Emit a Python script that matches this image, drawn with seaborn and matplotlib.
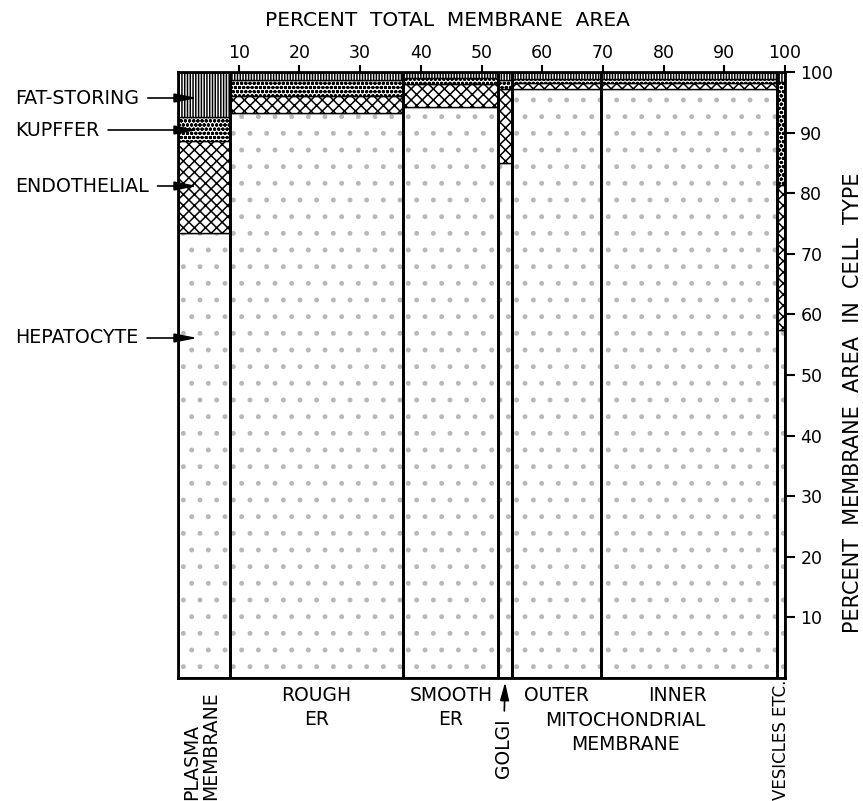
import numpy as np
import pandas as pd
import matplotlib
matplotlib.use("Agg")
import matplotlib.pyplot as plt
import matplotlib.transforms as mtransforms
import seaborn as sns

# Membrane compartments (column widths = percent of total membrane area)
compartments = ["PLASMA\nMEMBRANE", "ROUGH\nER", "SMOOTH\nER", "GOLGI",
                "OUTER", "INNER", "VESICLES ETC."]
total_area = [8.5, 28.6, 15.7, 2.2, 14.7, 28.9, 1.4]

# Percent of each compartment's membrane contributed by each cell type
cell_types = ["HEPATOCYTE", "ENDOTHELIAL", "KUPFFER", "FAT-STORING"]
hepatocyte = [73.5, 93.2, 94.2, 85.0, 97.2, 97.2, 57.4]
endothelial = [15.1, 2.9, 3.8, 12.2, 1.0, 1.0, 24.0]
kupffer = [4.0, 2.5, 1.0, 1.4, 0.6, 0.6, 16.9]
fat_storing = [7.4, 1.4, 1.0, 1.4, 1.2, 1.2, 1.7]

x_ticks = [10, 20, 30, 40, 50, 60, 70, 80, 90, 100]
y_ticks = [10, 20, 30, 40, 50, 60, 70, 80, 90, 100]

sns.set_theme(style="white")
plt.rcParams["font.family"] = ["DejaVu Sans"]
plt.rcParams["text.color"] = "black"
plt.rcParams["hatch.linewidth"] = 1.1

df = pd.DataFrame({
    "compartment": np.repeat(compartments, len(cell_types)),
    "cell_type": cell_types * len(compartments),
    "share": np.column_stack([hepatocyte, endothelial, kupffer, fat_storing]).ravel(),
})
widths = np.array(total_area)
lefts = np.concatenate([[0.0], np.cumsum(widths)[:-1]])
centers = lefts + widths / 2

hatch_style = {
    "HEPATOCYTE": (".", "#b8b8b8"),
    "ENDOTHELIAL": ("xxx", "black"),
    "KUPFFER": ("oooo", "black"),
    "FAT-STORING": ("||||||", "black"),
}

W, H = 863, 801
fig = plt.figure(figsize=(W / 100, H / 100), dpi=100)
ax = fig.add_axes([178 / W, 1 - 678 / H, (785 - 178) / W, (678 - 72) / H])

bottom = np.zeros(len(compartments))
for ct in cell_types:
    vals = df.loc[df["cell_type"] == ct, "share"].to_numpy()
    hatch, hcol = hatch_style[ct]
    ax.bar(lefts, vals, width=widths, bottom=bottom, align="edge",
           facecolor="white", edgecolor=hcol, hatch=hatch, linewidth=0)
    ax.bar(lefts, vals, width=widths, bottom=bottom, align="edge",
           fill=False, edgecolor="black", linewidth=1.0)
    bottom += vals

# heavy outline around each compartment column
ax.bar(lefts, bottom, width=widths, align="edge", fill=False,
       edgecolor="black", linewidth=2.0)

ax.set_xlim(0, 100)
ax.set_ylim(0, 100)
ax.xaxis.tick_top()
ax.yaxis.tick_right()
ax.set_xticks(x_ticks)
ax.set_yticks(y_ticks)
ax.set_xticklabels([str(t) for t in x_ticks])
ax.set_yticklabels([str(t) for t in y_ticks])
ax.tick_params(axis="both", direction="out", length=5, width=1.5,
               labelsize=12.5, pad=2, colors="black")
ax.tick_params(axis="y", length=7, pad=4)
for sp in ax.spines.values():
    sp.set_linewidth(2.0)
    sp.set_color("black")
ax.grid(False)

fig.text(447 / W, 1 - 20 / H, "PERCENT  TOTAL  MEMBRANE  AREA",
         ha="center", va="center", fontsize=14.5)
fig.text(853 / W, 1 - 403 / H, "PERCENT  MEMBRANE  AREA  IN  CELL  TYPE",
         ha="center", va="center", rotation=90, fontsize=15)

# Cell type labels with arrows into the plasma membrane column
arrow = dict(arrowstyle="-|>,head_length=1.0,head_width=0.2",
             color="black", lw=1.2, shrinkA=4, shrinkB=0)
for name, ypx in [("FAT-STORING", 98), ("KUPFFER", 130),
                  ("ENDOTHELIAL", 186), ("HEPATOCYTE", 338)]:
    ydata = (678 - ypx) / 6.06
    ax.annotate(name, xy=(3.2, ydata), xycoords="data",
                xytext=(15 / W, 1 - ypx / H), textcoords="figure fraction",
                ha="left", va="center", fontsize=13.7, arrowprops=arrow,
                annotation_clip=False)

# Compartment names below the columns
tr = mtransforms.blended_transform_factory(ax.transData, fig.transFigure)
fs = 13.5
ax.text(centers[0] - 0.5, 1 - 800 / H, compartments[0], transform=tr,
        rotation=90, ha="center", va="bottom", multialignment="left",
        fontsize=fs, linespacing=1.0)
ax.text(centers[1], 1 - 686 / H, compartments[1], transform=tr,
        ha="center", va="top", fontsize=fs, linespacing=1.35)
ax.text(centers[2], 1 - 686 / H, compartments[2], transform=tr,
        ha="center", va="top", fontsize=fs, linespacing=1.35)
ax.annotate(compartments[3], xy=(centers[3], 0), xycoords=("data", "axes fraction"),
            xytext=(centers[3] - 0.3, 1 - 778 / H), textcoords=tr,
            rotation=90, ha="center", va="bottom", fontsize=fs,
            arrowprops=dict(arrowstyle="-|>,head_length=0.8,head_width=0.2",
                            color="black", lw=1.2, shrinkA=3, shrinkB=3),
            annotation_clip=False)
ax.text(centers[4], 1 - 686 / H, compartments[4], transform=tr,
        ha="center", va="top", fontsize=fs)
ax.text(82.3, 1 - 686 / H, compartments[5], transform=tr,
        ha="center", va="top", fontsize=fs)
ax.text(73.7, 1 - 711 / H, "MITOCHONDRIAL\nMEMBRANE", transform=tr,
        ha="center", va="top", fontsize=fs, linespacing=1.35)
ax.text(centers[6], 1 - 800 / H, compartments[6], transform=tr,
        rotation=90, ha="center", va="bottom", fontsize=12)

fig.savefig("out.png", dpi=100, facecolor="white")
